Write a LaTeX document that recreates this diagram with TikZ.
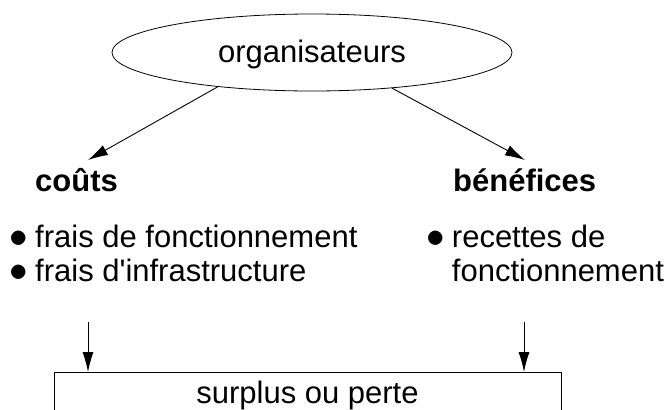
\RequirePackage{fix-cm}
\documentclass[tikz,border=0pt]{standalone}
\usepackage{fontspec}
\setmainfont{Liberation Sans}
\usetikzlibrary{shapes.geometric,arrows.meta}

% list bullet, a little larger than the running text
\newcommand\itembullet{\smash{\fontsize{37}{37}\selectfont$\bullet$}}

\tikzset{
  big/.style={font=\fontsize{31}{34.5}\selectfont},
  conn/.style={line width=0.9pt, -{Latex[length=20pt,width=11pt]}},
  heading/.style={big, font=\fontsize{31}{34.5}\selectfont\bfseries, inner sep=0pt, anchor=base west},
  list/.style={big, inner sep=0pt, anchor=base west},
}

\begin{document}
\begin{tikzpicture}[x=1pt, y=-1pt]
  \useasboundingbox (0,0) rectangle (670,410);
  \clip (0,0) rectangle (670,410);

  % top ellipse
  \node[ellipse, draw, line width=0.8pt, big, minimum width=400pt, minimum height=77pt,
        inner sep=0pt, text height=26pt, text depth=7pt]
    (org) at (312,52.5) {organisateurs\hspace{14pt}};

  % headings
  \node[heading] (couts) at (35,191) {coûts};
  \node[heading] (benef) at (453,191) {bénéfices};

  % item lists
  \node[list] (costs) at (9.75,247)
    {\begin{tabular}[t]{@{}l@{\hspace{6.75pt}}l@{}}
      \itembullet & frais de fonctionnement\\
      \itembullet & frais d\textquotesingle infrastructure
     \end{tabular}};
  \node[list] (gains) at (426.5,247)
    {\begin{tabular}[t]{@{}l@{\hspace{6.75pt}}l@{}}
      \itembullet & recettes de\\
                  & fonctionnement
     \end{tabular}};

  % result box, open at the bottom edge
  \node[draw, line width=0.8pt, big, minimum width=507pt, minimum height=46pt,
        inner sep=0pt, anchor=north] (result) at (307.5,372) {surplus ou perte};

  % arrow end points
  \coordinate (ctip) at (88,160);
  \coordinate (btip) at (525,160);
  \coordinate (cdown) at (88,322);
  \coordinate (bdown) at (524,322);

  % connectors
  \draw[conn] (org.200.5) -- (ctip);
  \draw[conn] (org.336.8) -- (btip);
  \draw[conn] (cdown) -- (result.north -| cdown);
  \draw[conn] (bdown) -- (result.north -| bdown);
\end{tikzpicture}
\end{document}
